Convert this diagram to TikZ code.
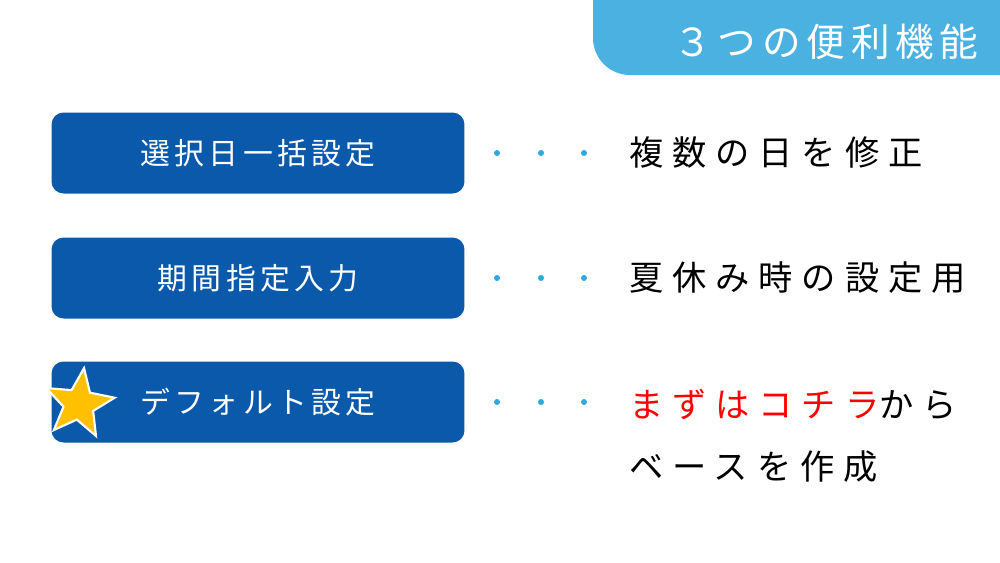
\documentclass[tikz,border=0pt]{standalone}
\usepackage{fontspec}
\setmainfont{Noto Sans CJK JP}
\usetikzlibrary{positioning}
\usetikzlibrary{shapes.geometric}
\definecolor{boxblue}{HTML}{0B59AA}
\definecolor{tabblue}{HTML}{4BB1E1}
\definecolor{dotblue}{HTML}{2FA8E0}
\begin{document}
\begin{tikzpicture}[x=0.02cm,y=-0.02cm,
  func/.style={fill=boxblue,rounded corners=0.24cm,minimum width=8.26cm,minimum height=1.62cm,
    text=white,font=\fontsize{17}{20}\selectfont\addfontfeature{LetterSpace=14}},
  desc/.style={anchor=west,font=\fontsize{19.5}{22}\selectfont\addfontfeature{LetterSpace=26}},
  dot/.style={fill=dotblue,circle,inner sep=0pt,minimum size=0.12cm}]
\useasboundingbox (0,0) rectangle (1000,562);
% tab
\fill[tabblue,rounded corners=0.74cm] (1100,-40) -- (593,-40) -- (593,75) -- (1100,75) -- cycle;
\node[text=white,font=\fontsize{22}{24}\selectfont\addfontfeature{LetterSpace=15}] (title) at (826,42) {３つの便利機能};
% rows
\node[func] (f1) at (258,153) {選択日一括設定};
\node[func] (f2) at (258,278) {期間指定入力};
\node[func] (f3) at (258,402) {デフォルト設定};
\foreach \y in {153,278,402}
  \foreach \x in {497,541,584}
    \node[dot] at (\x,\y) {};
\node[desc] (d1) at (623,153) {複数の日を修正};
\node[desc] (d2) at (623,278) {夏休み時の設定用};
\node[desc] (d3) at (623,404) {\textcolor{red}{まずはコチラ}から};
\node[desc] (d4) at (623,467) {ベースを作成};
% star
\node[star,star points=5,star point ratio=2.3,minimum size=1.45cm,inner sep=0pt,
  fill={rgb,255:red,255;green,192;blue,0},draw=white,line width=1.2pt,rotate=-8] (star) at (79,404) {};
\end{tikzpicture}
\end{document}
